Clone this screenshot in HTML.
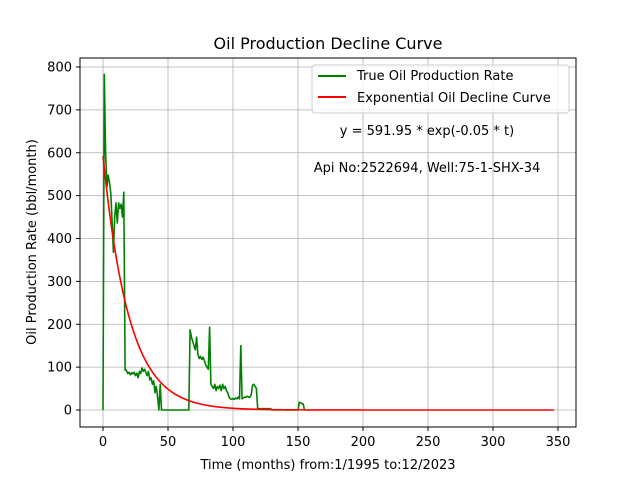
<!DOCTYPE html>
<html><head><meta charset="utf-8"><style>
body{margin:0;background:#fff;font-family:"Liberation Sans","DejaVu Sans",sans-serif;}
</style></head><body>
<svg id="chart" width="640" height="480" xmlns="http://www.w3.org/2000/svg" font-family="DejaVu Sans, Liberation Sans, sans-serif">
<rect width="640" height="480" fill="#fff"/>
<text x="328" y="49" text-anchor="middle" font-size="16">Oil Production Decline Curve</text>
<g id="grid"></g><g id="ticks"></g><g id="series"></g>
<rect x="80" y="58" width="496" height="369" fill="none" stroke="#000" stroke-width="1"/>
<g>
<rect x="312" y="65" width="257" height="48" rx="3" fill="#fff" fill-opacity="0.8" stroke="#ccc"/>
<line x1="318" y1="76" x2="346" y2="76" stroke="green" stroke-width="2"/>
<text x="357" y="80" font-size="13">True Oil Production Rate</text>
<line x1="318" y1="97" x2="346" y2="97" stroke="red" stroke-width="2"/>
<text x="357" y="102" font-size="13">Exponential Oil Decline Curve</text>
</g>
<text x="427" y="135" text-anchor="middle" font-size="13">y = 591.95 * exp(-0.05 * t)</text>
<text x="427" y="172" text-anchor="middle" font-size="13">Api No:2522694, Well:75-1-SHX-34</text>
<text x="328" y="469" text-anchor="middle" font-size="13">Time (months) from:1/1995 to:12/2023</text>
<text transform="translate(36,242) rotate(-90)" text-anchor="middle" font-size="13">Oil Production Rate (bbl/month)</text>
</svg>
<script>
const xTicks=[0,50,100,150,200,250,300,350];
const yTicks=[0,100,200,300,400,500,600,700,800];
const oilRate=[0,783,600,520,548,530,506,440,368,450,483,436,483,470,480,450,508,93,93,85,88,82,87,84,88,80,86,75,90,85,98,90,95,88,80,90,70,75,60,68,40,55,30,0,60,0,
0,0,0,0,0,0,0,0,0,0,0,0,0,0,0,0,0,0,0,0,0,
187,170,160,150,140,170,130,120,125,118,123,115,105,100,95,193,60,55,50,60,45,55,50,58,45,60,50,55,45,40,30,26,25,27,25,28,26,30,26,150,26,28,30,30,32,30,30,35,58,60,55,50,3,3,3,3,3,3,3,3,3,3,3,
0,0,0,0,0,0,0,0,0,0,0,0,0,0,0,0,0,0,0,0,0,18,17,15,14,0];
const fitParams=[591.95,-0.05];
const fitMonths=347;
const X=t=>103+t*1.3, Y=v=>410-v*0.42875;
const NS="http://www.w3.org/2000/svg";
function mk(tag,attrs,parent){const e=document.createElementNS(NS,tag);for(const k in attrs)e.setAttribute(k,attrs[k]);parent.appendChild(e);return e;}
const grid=document.getElementById('grid'),ticks=document.getElementById('ticks'),ser=document.getElementById('series');
xTicks.forEach(t=>{
 const g=mk('line',{x1:X(t),x2:X(t),y1:58,y2:427,stroke:'#b0b0b0','stroke-width':0.8},grid);
 
 
 mk('line',{x1:X(t),x2:X(t),y1:427,y2:431,stroke:'#000'},ticks);
 const l=mk('text',{x:X(t),y:446,'text-anchor':'middle','font-size':13},ticks);l.textContent=t;
 
 
});
yTicks.forEach(v=>{
 const g=mk('line',{x1:80,x2:576,y1:Y(v),y2:Y(v),stroke:'#b0b0b0','stroke-width':0.8},grid);
 
 
 mk('line',{x1:76,x2:80,y1:Y(v),y2:Y(v),stroke:'#000'},ticks);
 const l=mk('text',{x:72,y:Y(v)+4.5,'text-anchor':'end','font-size':13},ticks);l.textContent=v;
 
 
});
const gp=mk('polyline',{points:oilRate.map((v,i)=>X(i)+','+Y(v)).join(' '),fill:'none',stroke:'green','stroke-width':1.6,'stroke-linejoin':'round'},ser);


const pts=[];for(let t=0;t<=fitMonths;t++)pts.push(X(t)+','+Y(fitParams[0]*Math.exp(fitParams[1]*t)));
const rp=mk('polyline',{points:pts.join(' '),fill:'none',stroke:'red','stroke-width':1.6},ser);


</script>
</body></html>
